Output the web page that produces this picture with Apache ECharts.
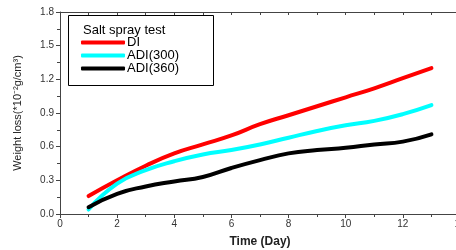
<!DOCTYPE html>
<html>
<head>
<meta charset="utf-8">
<script src="https://cdn.jsdelivr.net/npm/echarts@6/dist/echarts.min.js"></script>
<style>
  html, body { margin: 0; padding: 0; background: #fff; }
  #chart { width: 456px; height: 250px; }
</style>
</head>
<body>
<div id="chart"></div>
<script>
var chart = echarts.init(document.getElementById('chart'));

// days
var days = [1, 2, 3, 4, 5, 6, 7, 8, 9, 10, 11, 12, 13];
// weight loss (*10^-2 g/cm^3)
var di = [0.16, 0.30, 0.43, 0.54, 0.62, 0.70, 0.80, 0.88, 0.96, 1.04, 1.12, 1.21, 1.30];
var adi300 = [0.04, 0.27, 0.39, 0.47, 0.53, 0.57, 0.62, 0.68, 0.74, 0.79, 0.83, 0.89, 0.97];
var adi360 = [0.06, 0.18, 0.245, 0.29, 0.33, 0.41, 0.48, 0.54, 0.57, 0.59, 0.62, 0.645, 0.71];

function pairs(ys) {
    return days.map(function (d, i) { return [d, ys[i]]; });
}

var axisColor = '#444';
var font = 'Liberation Sans, Arial, sans-serif';

function line(name, color, ys) {
    return {
        name: name,
        type: 'line',
        smooth: true,
        showSymbol: false,
        symbol: 'none',
        lineStyle: { color: color, width: 4, cap: 'round' },
        itemStyle: { color: color },
        data: pairs(ys)
    };
}

option = {
    animation: false,
    grid: { left: 60, width: 400, top: 12, height: 202, containLabel: false, outerBoundsMode: 'none' },
    legend: {
        orient: 'vertical',
        left: 76,
        top: 31,
        itemGap: 0,
        itemWidth: 44,
        itemHeight: 4,
        icon: 'roundRect',
        textStyle: { fontFamily: font, fontSize: 13, color: '#000', padding: [0, 0, 0, -3], lineHeight: 13 },
        data: ['DI', 'ADI(300)', 'ADI(360)']
    },
    graphic: [
        {
            type: 'rect',
            shape: { x: 68.5, y: 15.5, width: 145, height: 70 },
            style: { fill: 'rgba(0,0,0,0)', stroke: '#000', lineWidth: 1 },
            z: 10
        },
        {
            type: 'text',
            left: 83,
            top: 24,
            style: { text: 'Salt spray test', font: '13px ' + font, fill: '#000' },
            z: 10
        }
    ],
    xAxis: [
        {
            type: 'value',
            min: 0,
            max: 14,
            interval: 2,
            name: 'Time (Day)',
            nameLocation: 'middle',
            nameGap: 22,
            nameTextStyle: { fontFamily: font, fontSize: 12, fontWeight: 'bold', color: '#222' },
            axisLine: { lineStyle: { color: axisColor, width: 1 } },
            axisTick: { length: 4, lineStyle: { color: axisColor } },
            minorTick: { show: true, splitNumber: 2, length: 3, lineStyle: { color: axisColor } },
            axisLabel: { fontFamily: font, fontSize: 10, color: '#333', margin: 5 },
            splitLine: { show: false }
        },
        {
            type: 'value',
            position: 'top',
            min: 0,
            max: 14,
            interval: 1,
            axisLine: { show: true, onZero: false, lineStyle: { color: axisColor, width: 1 } },
            axisTick: { show: true, inside: true, length: 3, lineStyle: { color: axisColor } },
            axisLabel: { show: false },
            splitLine: { show: false }
        }
    ],
    yAxis: {
        type: 'value',
        min: 0,
        max: 1.8,
        interval: 0.3,
        name: 'Weight loss(*10\u207B\u00B2g/cm\u00B3)',
        nameLocation: 'middle',
        nameGap: 37,
        nameTextStyle: { fontFamily: font, fontSize: 11, color: '#222' },
        axisLine: { show: true, lineStyle: { color: axisColor, width: 1 } },
        axisTick: { show: true, length: 4, lineStyle: { color: axisColor } },
        minorTick: { show: true, splitNumber: 2, length: 3, lineStyle: { color: axisColor } },
        axisLabel: {
            fontFamily: font, fontSize: 10, color: '#333', margin: 6,
            formatter: function (v) { return v.toFixed(1); }
        },
        splitLine: { show: false }
    },
    series: [
        line('DI', '#ff0000', di),
        line('ADI(300)', '#00ffff', adi300),
        line('ADI(360)', '#000000', adi360)
    ]
};

chart.setOption(option);
</script>
</body>
</html>
